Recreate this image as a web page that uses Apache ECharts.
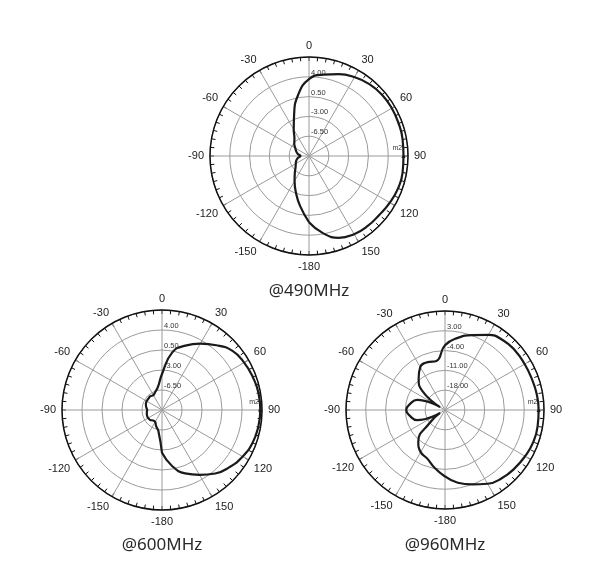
<!DOCTYPE html>
<html>
<head>
<meta charset="utf-8">
<script src="https://cdn.jsdelivr.net/npm/echarts@6/dist/echarts.min.js"></script>
<style>
  html, body { margin: 0; padding: 0; background: #fff; }
  #chart-container { width: 610px; height: 561px; }
</style>
</head>
<body>
<div id="chart-container"></div>
<script>
var dom = document.getElementById("chart-container");
var myChart = echarts.init(dom, null, { renderer: "canvas" });

// angle of each sample, degrees (0 = top, clockwise)
var angles = [-180, -170, -160, -150, -140, -130, -120, -110, -100, -90,
  -80, -70, -60, -50, -40, -30, -20, -10, 0, 10, 20, 30, 40, 50, 60, 70,
  80, 90, 100, 110, 120, 130, 140, 150, 160, 170, 180];

// gain for each angle
var gain490 = [1.7, -1.0, -3.2, -4.9, -6.1, -6.9, -7.3, -7.6, -8.0, -8.5,
  -8.0, -7.6, -7.2, -6.6, -6.0, -4.6, -2.3, 1.0, 3.6, 4.6, 5.4, 6.1, 6.6, 6.85,
  6.9, 6.85, 6.8, 6.7, 6.8, 6.75, 6.5, 6.2, 6.15, 5.95, 5.4, 3.8, 1.7];
var gain600 = [-2.5, -6.3, -7.0, -7.6, -7.6, -7.3, -7.2, -7.2, -7.3, -7.4,
  -7.2, -7.0, -6.9, -6.9, -6.85, -7.0, -6.6, -5.9, -3.7, 0.2, 2.0, 3.4, 4.8, 6.1,
  6.6, 6.9, 7.15, 7.2, 7.1, 6.85, 6.3, 5.5, 4.5, 3.1, 1.8, -0.1, -2.5];
var gain960 = [-1.5, -4.2, -6.7, -7.8, -10.3, -18, -23, -14.5, -12.5, -11.3,
  -12.5, -14.5, -23, -14.5, -10.5, -7.5, -7.0, -7.4, -2.1, 0.9, 3.2, 5.7, 7.1, 7.5,
  7.5, 7.6, 7.9, 8.1, 8.25, 8.2, 7.7, 7.1, 6.4, 5.1, 3.0, 1.1, -1.5];

var titles = ["@490MHz", "@600MHz", "@960MHz"];
var radMin = [-10, -10, -25];
var radMax = [7.5, 7.5, 10];
var radStep = [3.5, 3.5, 7];
var gains = [gain490, gain600, gain960];
var markerLabel = "m2";

var centers = [[309, 156], [162, 410], [445, 410]];
var radii = [99, 100, 99];

function angleLabel(v) {
  if (v === 360) return "";
  if (v === 180) return "-180";
  return v > 180 ? String(v - 360) : String(v);
}

var option = {
  animation: false,
  polar: [],
  angleAxis: [],
  radiusAxis: [],
  series: [],
  graphic: [],
};

for (var i = 0; i < 3; i++) {
  option.polar.push({ center: centers[i], radius: radii[i] });
  option.angleAxis.push({
    polarIndex: i,
    type: "value",
    min: 0,
    max: 360,
    interval: 30,
    startAngle: 90,
    clockwise: true,
    axisLine: { lineStyle: { color: "#111", width: 1.5 } },
    axisTick: { inside: true, length: 4, lineStyle: { color: "#111" } },
    minorTick: { show: true, splitNumber: 6, length: 4, lineStyle: { color: "#111" } },
    axisLabel: {
      margin: 6,
      color: "#222",
      fontSize: 11,
      fontFamily: "Liberation Sans",
      formatter: angleLabel,
    },
    splitLine: { show: true, lineStyle: { color: "#9a9a9a", width: 1 } },
  });
  option.radiusAxis.push({
    polarIndex: i,
    type: "value",
    min: radMin[i],
    max: radMax[i],
    interval: radStep[i],
    axisLine: { show: false },
    axisTick: { show: false },
    axisLabel: {
      showMinLabel: false,
      showMaxLabel: false,
      margin: -2,
      align: "left",
      verticalAlign: "bottom",
      fontSize: 7.5,
      color: "#333",
      fontFamily: "Liberation Sans",
      formatter: function (v) { return v.toFixed(2); },
    },
    splitLine: { show: true, lineStyle: { color: "#9a9a9a", width: 1 } },
  });
  var g = gains[i];
  var data = angles.map(function (a, k) {
    return [g[k], a < 0 ? a + 360 : a];
  });
  option.series.push({
    type: "line",
    coordinateSystem: "polar",
    polarIndex: i,
    data: data,
    smooth: 0.5,
    symbol: "none",
    lineStyle: { color: "#1a1a1a", width: 2.2 },
    markPoint: {
      symbol: "triangle",
      symbolSize: 4,
      itemStyle: { color: "#111" },
      label: {
        show: true,
        formatter: markerLabel,
        fontSize: 7,
        color: "#333",
        position: [-9, -9],
      },
      data: [{ coord: [g[angles.indexOf(90)], 90] }],
    },
    z: 5,
  });
  option.graphic.push({
    type: "text",
    x: centers[i][0],
    y: centers[i][1] + 135,
    style: {
      text: titles[i],
      textAlign: "center",
      textVerticalAlign: "middle",
      fontSize: 17,
      fontFamily: "Noto Sans",
      fill: "#2a2a2a",
    },
  });
}

myChart.setOption(option);
window.addEventListener("resize", myChart.resize);
</script>
</body>
</html>
